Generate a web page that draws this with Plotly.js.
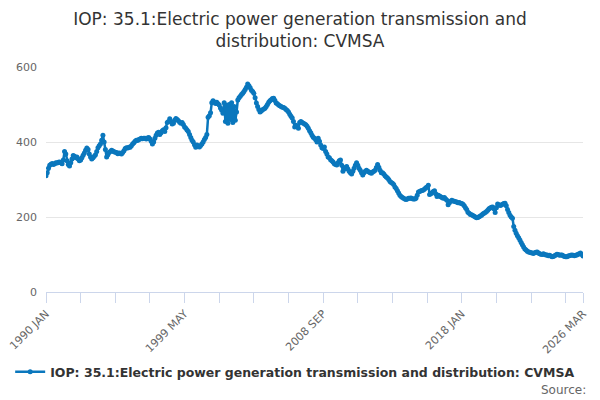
<!DOCTYPE html>
<html>
<head>
<meta charset="utf-8">
<script src="https://cdn.plot.ly/plotly-3.0.1.min.js"></script>
<style>
  html, body { margin: 0; padding: 0; background: #fff; }
  #chart { width: 600px; height: 400px; }
</style>
</head>
<body>
<div id="chart"></div>
<script>
const seriesName = 'IOP: 35.1:Electric power generation transmission and distribution: CVMSA';
const months = ['JAN', 'FEB', 'MAR', 'APR', 'MAY', 'JUN', 'JUL', 'AUG', 'SEP', 'OCT', 'NOV', 'DEC'];
const firstYear = 1990;

// monthly values, one row per year
const values = [
  310, 318, 330, 338, 341, 343, 340, 342, 345, 344, 346, 347, // 1990
  345, 342, 352, 375, 368, 350, 340, 336, 345, 355, 364, 362, // 1991
  358, 360, 355, 350, 352, 358, 365, 371, 378, 384, 380, 368, // 1992
  360, 355, 358, 362, 366, 375, 385, 390, 395, 405, 418, 400, // 1993
  380, 360, 366, 372, 375, 378, 376, 374, 373, 372, 369, 371, // 1994
  370, 368, 372, 377, 383, 385, 384, 386, 386, 390, 395, 398, // 1995
  402, 405, 404, 407, 408, 410, 409, 410, 410, 408, 411, 412, // 1996
  408, 402, 395, 400, 410, 418, 424, 426, 420, 425, 430, 433, // 1997
  428, 438, 452, 455, 462, 455, 448, 450, 458, 463, 460, 457, // 1998
  453, 450, 452, 447, 440, 437, 432, 428, 420, 412, 405, 400, // 1999
  393, 386, 392, 389, 387, 391, 395, 400, 407, 412, 420, 466, // 2000
  470, 478, 505, 510, 507, 503, 506, 502, 499, 491, 485, 477, // 2001
  505, 455, 498, 450, 500, 460, 505, 452, 495, 458, 480, 512, // 2002
  518, 522, 527, 530, 535, 540, 546, 555, 550, 545, 538, 535, // 2003
  530, 518, 504, 495, 487, 480, 483, 486, 488, 490, 495, 500, // 2004
  506, 510, 513, 516, 517, 511, 504, 502, 499, 497, 495, 493, // 2005
  492, 490, 487, 484, 480, 474, 469, 464, 455, 440, 445, 442, // 2006
  437, 452, 455, 452, 450, 448, 446, 442, 437, 430, 425, 418, // 2007
  413, 410, 406, 400, 410, 402, 392, 385, 383, 387, 375, 368, // 2008
  360, 358, 353, 350, 347, 342, 340, 339, 345, 350, 352, 338, // 2009
  322, 328, 332, 335, 328, 322, 318, 315, 322, 330, 338, 345, // 2010
  338, 330, 325, 318, 312, 318, 322, 325, 322, 320, 318, 317, // 2011
  320, 322, 325, 332, 340, 333, 325, 318, 318, 315, 310, 307, // 2012
  304, 300, 295, 292, 290, 287, 280, 276, 270, 264, 258, 255, // 2013
  252, 250, 248, 247, 248, 250, 250, 251, 249, 248, 248, 250, // 2014
  258, 267, 268, 270, 271, 272, 275, 278, 280, 285, 260, 262, // 2015
  265, 268, 270, 262, 255, 258, 256, 254, 252, 250, 252, 248, // 2016
  245, 233, 238, 242, 245, 243, 242, 241, 240, 238, 239, 237, // 2017
  236, 234, 230, 225, 220, 213, 210, 207, 206, 204, 202, 200, // 2018
  198, 199, 201, 203, 205, 208, 210, 212, 215, 218, 222, 224, // 2019
  226, 227, 222, 212, 225, 235, 233, 231, 232, 234, 236, 237, // 2020
  230, 220, 212, 205, 200, 197, 175, 165, 157, 150, 145, 139, // 2021
  132, 126, 120, 115, 112, 109, 107, 106, 105, 104, 103, 105, // 2022
  106, 107, 104, 102, 101, 100, 102, 100, 99, 99, 97, 98,     // 2023
  96, 94, 95, 97, 99, 101, 100, 98, 99, 99, 97, 95,           // 2024
  94, 94, 96, 97, 98, 99, 98, 97, 98, 99, 101, 102,           // 2025
  104, 100, 96                                                // 2026
];

const labels = values.map((v, i) => `${firstYear + Math.floor(i / 12)} ${months[i % 12]}`);
const index = values.map((v, i) => i);

// a tick every 28 months, a label every 4th tick, plus the last month
const labelled = [0, 112, 224, 336, values.length - 1];
let tickvals = [];
for (let i = 0; i < values.length; i += 28) tickvals.push(i);
tickvals.push(values.length - 1);
const ticktext = tickvals.map(i => (labelled.includes(i) ? labels[i] : ''));

const blue = '#0a77bd';

const trace = {
  type: 'scatter',
  mode: 'lines+markers',
  x: index,
  y: values,
  text: labels,
  name: seriesName,
  line: { color: blue, width: 2.5 },
  marker: { color: blue, size: 5 },
  hovertemplate: '%{text}: %{y}<extra></extra>',
};

const layout = {
  width: 600,
  height: 400,
  margin: { l: 46, r: 17, t: 67, b: 108 },
  paper_bgcolor: '#fff',
  plot_bgcolor: '#fff',
  font: { family: 'DejaVu Sans, sans-serif', color: '#666', size: 11 },
  title: {
    text: 'IOP: 35.1:Electric power generation transmission and<br>distribution: CVMSA',
    font: { size: 17, color: '#333' },
    x: 0.5,
    xanchor: 'center',
    yref: 'container',
    y: 0.938,
    yanchor: 'middle',
  },
  xaxis: {
    range: [0, values.length - 1],
    tickmode: 'array',
    tickvals: tickvals,
    ticktext: ticktext,
    tickangle: -45,
    ticks: 'outside',
    ticklen: 10,
    tickcolor: '#ccd6eb',
    showline: true,
    linecolor: '#ccd6eb',
    linewidth: 1,
    showgrid: false,
    zeroline: false,
    tickfont: { size: 11, color: '#666' },
  },
  yaxis: {
    range: [0, 600],
    tickvals: [0, 200, 400, 600],
    gridcolor: '#e6e6e6',
    zeroline: false,
    showline: false,
    ticklabelstandoff: 8,
    tickfont: { size: 11, color: '#666' },
  },
  showlegend: true,
  legend: {
    orientation: 'h',
    x: 0.464,
    xanchor: 'center',
    yref: 'container',
    y: 0.07,
    yanchor: 'middle',
    font: { size: 12.5, color: '#333', weight: 'bold' },
  },
  annotations: [{
    text: 'Source:',
    xref: 'paper',
    x: 1.01,
    xanchor: 'right',
    yref: 'paper',
    y: -0.435,
    yanchor: 'middle',
    showarrow: false,
    font: { size: 12, color: '#666' },
  }],
};

Plotly.newPlot('chart', [trace], layout, { displayModeBar: false, staticPlot: true });
</script>
</body>
</html>
